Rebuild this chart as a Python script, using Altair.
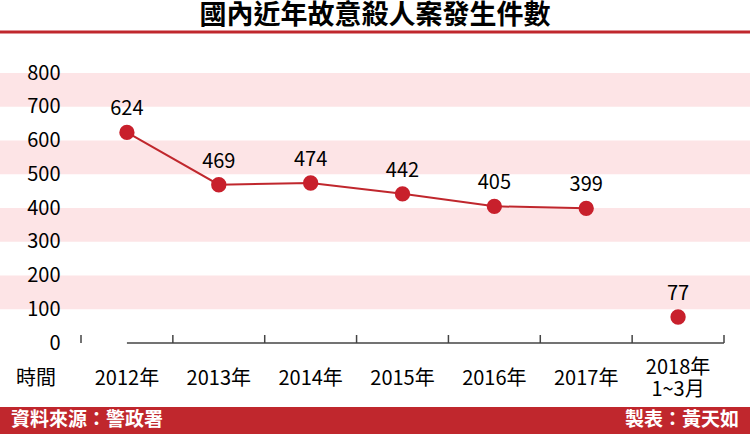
import altair as alt
import pandas as pd

# ---- data ----
years = ["2012年", "2013年", "2014年", "2015年", "2016年", "2017年", "2018年\n1~3月"]
values = [624, 469, 474, 442, 405, 399, 77]
band_start = [100, 300, 500, 700]
band_end = [200, 400, 600, 800]
y_ticks = [0, 100, 200, 300, 400, 500, 600, 700, 800]
title_text = "國內近年故意殺人案發生件數"
x_title = "時間"
source_text = "資料來源：警政署"
maker_text = "製表：黃天如"

FONT = "Noto Sans CJK TC"
RED = "#c0272d"
DOT = "#c8202c"
PINK = "#fde4e6"

df = pd.DataFrame({"year": years, "value": values, "idx": list(range(len(years)))})
bands = pd.DataFrame({"s": band_start, "e": band_end})

W, H = 643, 270
LEFT, TOP = 81, 73

xscale = alt.Scale(domain=years, paddingInner=0, paddingOuter=0)
yscale = alt.Scale(domain=[0, 800], nice=False)
yaxis = alt.Axis(values=y_ticks, title=None, domain=False, ticks=False, grid=False,
                 labelFontSize=20, labelFont=FONT, labelColor="#000", labelPadding=21,
                 labelOverlap=False, labelFlush=False, zindex=1)

base = alt.Chart(df)

band_layer = alt.Chart(bands).mark_rect(color=PINK).encode(
    x=alt.value(-LEFT), x2=alt.value(750 - LEFT),
    y=alt.Y("s:Q", scale=yscale, axis=yaxis),
    y2="e:Q",
)

axis_x = base.mark_rule(color="#444", strokeWidth=1.5).encode(
    x=alt.X("year:N", sort=years, scale=xscale, axis=None),
    x2=alt.value(W),
    y=alt.value(H),
).transform_filter("datum.idx == 0")

tick_layer = base.mark_rule(color="#444", strokeWidth=1.5).encode(
    x=alt.X("year:N", sort=years, scale=xscale, bandPosition=0, axis=None),
    y=alt.value(H - 8), y2=alt.value(H),
)
last_tick = base.mark_rule(color="#444", strokeWidth=1.5).encode(
    x=alt.value(W), y=alt.value(H - 8), y2=alt.value(H),
).transform_filter("datum.idx == 0")

line_layer = base.mark_line(color=RED, strokeWidth=2).encode(
    x=alt.X("year:N", sort=years, scale=xscale, axis=None),
    y=alt.Y("value:Q", scale=yscale, axis=yaxis),
).transform_filter("datum.idx < 6")

point_layer = base.mark_circle(color=DOT, size=235, opacity=1).encode(
    x=alt.X("year:N", sort=years, scale=xscale, axis=None),
    y=alt.Y("value:Q", scale=yscale, axis=yaxis),
)

label_layer = base.mark_text(dy=-23, fontSize=20, font=FONT, color="#000").encode(
    x=alt.X("year:N", sort=years, scale=xscale, axis=None),
    y=alt.Y("value:Q", scale=yscale, axis=yaxis),
    text="value:Q",
)

xlabel_layer = base.mark_text(fontSize=20, font=FONT, color="#000", baseline="middle").encode(
    x=alt.X("year:N", sort=years, scale=xscale, axis=None),
    y=alt.value(306),
    text="year:N",
).transform_filter("datum.idx < 6")

xlabel_multi = base.mark_text(fontSize=20, font=FONT, color="#000", baseline="middle",
                              lineBreak="\n", lineHeight=22).encode(
    x=alt.X("year:N", sort=years, scale=xscale, axis=None),
    y=alt.value(295),
    text="year:N",
).transform_filter("datum.idx == 6")

def single_text(txt, **kw):
    return alt.Chart(alt.Data(values=[{"t": txt}])).mark_text(**kw).encode(text="t:N")

xtitle_layer = single_text(x_title, fontSize=20, font=FONT, color="#000", baseline="middle",
                           align="center").encode(x=alt.value(36 - LEFT), y=alt.value(306))

title_layer = single_text(title_text, fontSize=27, font=FONT, fontWeight="bold", color="#000",
                          baseline="middle", align="center").encode(
    x=alt.value(375 - LEFT), y=alt.value(16 - TOP))

title_rule = single_text("").mark_rule(color=RED, strokeWidth=3).encode(
    x=alt.value(-LEFT), x2=alt.value(750 - LEFT), y=alt.value(32 - TOP))

footer_rect = single_text("").mark_rect(color=RED).encode(
    x=alt.value(-LEFT), x2=alt.value(750 - LEFT), y=alt.value(407 - TOP), y2=alt.value(434 - TOP))

src_layer = single_text(source_text, fontSize=19, font=FONT, fontWeight="bold", color="#fff",
                        baseline="middle", align="left").encode(
    x=alt.value(11 - LEFT), y=alt.value(420 - TOP))
maker_layer = single_text(maker_text, fontSize=19, font=FONT, fontWeight="bold", color="#fff",
                          baseline="middle", align="right").encode(
    x=alt.value(739 - LEFT), y=alt.value(420 - TOP))

chart = alt.layer(
    band_layer, title_rule, footer_rect, axis_x, tick_layer, last_tick,
    line_layer, point_layer, label_layer, xlabel_layer, xlabel_multi, xtitle_layer, title_layer,
    src_layer, maker_layer,
).properties(
    width=W, height=H,
    padding={"left": LEFT, "top": TOP, "right": 750 - LEFT - W, "bottom": 434 - TOP - H},
    autosize=alt.AutoSizeParams(type="none"),
    background="white",
).configure_view(stroke=None)

chart.save("out.html", embed_options={"renderer": "svg", "actions": False})
